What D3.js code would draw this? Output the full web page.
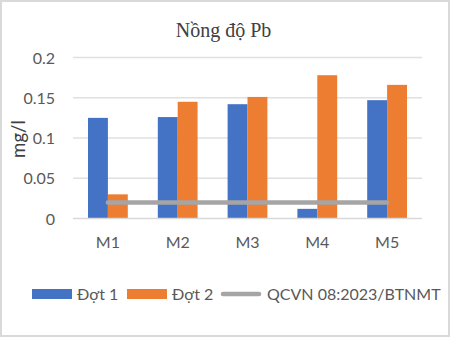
<!DOCTYPE html>
<html><head><meta charset="utf-8">
<script src="https://cdn.jsdelivr.net/npm/d3@7"></script>
<style>html,body{margin:0;padding:0;background:#fff;}svg{display:block;}</style>
</head><body>
<script>
const categories = ["M1","M2","M3","M4","M5"];
const dot1 = [0.125,0.126,0.142,0.012,0.147];
const dot2 = [0.030,0.145,0.151,0.178,0.166];
const qcvn = [0.02,0.02,0.02,0.02,0.02];
const yTicks = [0,0.05,0.1,0.15,0.2];
const yTickLabels = ["0","0.05","0.1","0.15","0.2"];
const seriesNames = ["Đợt 1","Đợt 2","QCVN 08:2023/BTNMT"];
const colors = ["#4472C4","#ED7D31","#A5A5A5"];

const W=451,H=338;
const svg=d3.select("body").append("svg").attr("width",W).attr("height",H);
svg.append("rect").attr("x",1).attr("y",1).attr("width",448).attr("height",335)
  .attr("fill","#fff").attr("stroke","#d9d9d9").attr("stroke-width",2);

const font="Lato, 'Open Sans', sans-serif";
const x=d3.scaleBand().domain(categories).range([73,422]).paddingInner(0.43).paddingOuter(0.215);
const y=d3.scaleLinear().domain([0,0.2]).range([218.5,57.5]);

// gridlines
svg.append("g").selectAll("line").data(yTicks.slice(1)).join("line")
  .attr("x1",73).attr("x2",422).attr("y1",d=>y(d)).attr("y2",d=>y(d))
  .attr("stroke","#e0e0e0").attr("stroke-width",1.3);

// y axis labels
const yAxis=d3.axisLeft(y).tickValues(yTicks).tickFormat((d,i)=>yTickLabels[i]).tickSize(0).tickPadding(0);
const ya=svg.append("g").attr("transform","translate(55,0)").call(yAxis);
ya.select(".domain").remove();
ya.selectAll("text").attr("font-family",font).attr("font-size",16).attr("fill","#595959").attr("dy","0.35em");

// bars
const inner=d3.scaleBand().domain([0,1]).range([0,x.bandwidth()]);
const g=svg.append("g");
[dot1,dot2].forEach((vals,si)=>{
  g.selectAll(null).data(vals).join("rect")
   .attr("x",(d,i)=>x(categories[i])+inner(si))
   .attr("width",inner.bandwidth())
   .attr("y",d=>y(d)).attr("height",d=>y(0)-y(d))
   .attr("fill",colors[si]);
});

// baseline
svg.append("line").attr("x1",73).attr("x2",422).attr("y1",y(0)).attr("y2",y(0))
  .attr("stroke","#d9d9d9").attr("stroke-width",1.5);

// QCVN line
const line=d3.line().x((d,i)=>x(categories[i])+x.bandwidth()/2).y(d=>y(d));
svg.append("path").datum(qcvn).attr("d",line).attr("fill","none")
  .attr("stroke",colors[2]).attr("stroke-width",4.5).attr("stroke-linecap","round");

// x axis labels
const xAxis=d3.axisBottom(x).tickSize(0).tickPadding(0);
const xa=svg.append("g").attr("transform","translate(0,248)").call(xAxis);
xa.select(".domain").remove();
xa.selectAll("text").attr("font-family",font).attr("font-size",16).attr("fill","#595959").attr("dy",0);

// title
svg.append("text").attr("x",223.5).attr("y",36.5).attr("text-anchor","middle")
  .attr("font-family","'Liberation Serif','Times New Roman',serif").attr("font-size",20)
  .attr("fill","#404040").text("Nồng độ Pb");

// y label
svg.append("text").attr("transform","translate(25,139) rotate(-90)").attr("text-anchor","middle")
  .attr("font-family",font).attr("font-size",18.67).attr("fill","#404040").text("mg/l");

// legend
const lg=svg.append("g");
const legendX=[32,127,221];
const textX=[77,172,267];
lg.append("rect").attr("x",legendX[0]).attr("y",289).attr("width",40).attr("height",10).attr("fill",colors[0]);
lg.append("rect").attr("x",legendX[1]).attr("y",289).attr("width",40).attr("height",10).attr("fill",colors[1]);
lg.append("line").attr("x1",legendX[2]+2).attr("x2",legendX[2]+38).attr("y1",294).attr("y2",294)
  .attr("stroke",colors[2]).attr("stroke-width",4.5).attr("stroke-linecap","round");
seriesNames.forEach((n,i)=>{
  lg.append("text").attr("x",textX[i]).attr("y",294).attr("dy","0.35em")
   .attr("font-family",font).attr("font-size",16).attr("fill","#595959").text(n);
});
</script>
</body></html>
